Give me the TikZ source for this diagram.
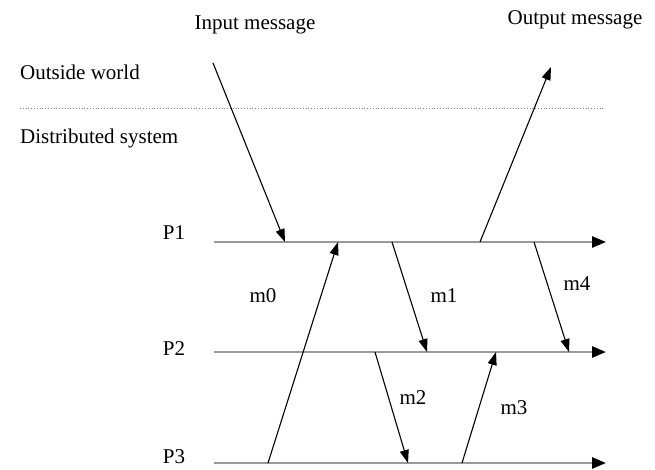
\documentclass[tikz,border=0pt]{standalone}
\usepackage{fontspec}
\setmainfont{Liberation Serif}
\usepackage{tikz}
\usetikzlibrary{arrows.meta, positioning, calc}

\tikzset{
  procline/.style={line width=2.6pt, gray!80, -{Triangle[length=14pt, width=11pt, black]}, shorten >=-3pt},
  msg/.style={line width=1.1pt, black, -{Triangle[length=13pt, width=9pt]}},
  lbl/.style={font=\fontsize{21}{24}\selectfont, inner sep=0pt},
  sepline/.style={gray, dotted, line width=0.8pt}
}

\begin{document}
\begin{tikzpicture}[x=1pt, y=1pt]
  \useasboundingbox (0,0) rectangle (655,469);

  % Outside world / distributed system
  \node[lbl, anchor=west] (outside) at (20,397) {Outside world};
  \node[lbl, anchor=west] (distsys) at (20,331) {Distributed system};
  \coordinate (sepL) at (20,361);
  \coordinate (sepR) at (605,361);
  \draw[sepline] (sepL) -- (sepR);

  % Processes
  \foreach \n/\y/\ty in {1/227/236, 2/117/120, 3/6/12} {
    \coordinate (p\n s) at (214,\y);
    \coordinate (p\n e) at (603,\y);
    \draw[procline] (p\n s) -- (p\n e);
    \node[lbl] (P\n) at (174,\ty) {P\n};
  }

  % Input and output
  \node[lbl] (inmsg) at (255,444) {Input message};
  \node[lbl] (outmsg) at (575,449) {Output message};
  \coordinate (inA) at (213,406);
  \coordinate (inB) at (285,227);
  \coordinate (outA) at (480,227);
  \coordinate (outB) at (551,402);
  \draw[msg] (inA) -- (inB);
  \draw[msg] (outA) -- (outB);

  % Messages
  \coordinate (m0A) at (268,6);   \coordinate (m0B) at (338,227);
  \coordinate (m1A) at (392,227); \coordinate (m1B) at (427,117);
  \coordinate (m4A) at (534,227); \coordinate (m4B) at (569,117);
  \coordinate (m2A) at (375,117); \coordinate (m2B) at (408,6);
  \coordinate (m3A) at (462,6);   \coordinate (m3B) at (496,117);
  \foreach \m in {m0,m1,m2,m3,m4} \draw[msg] (\m A) -- (\m B);

  \node[lbl] (lm0) at (263,173) {m0};
  \node[lbl] (lm1) at (444,173) {m1};
  \node[lbl] (lm4) at (577,185) {m4};
  \node[lbl] (lm2) at (413,71) {m2};
  \node[lbl] (lm3) at (514,61) {m3};
\end{tikzpicture}
\end{document}
